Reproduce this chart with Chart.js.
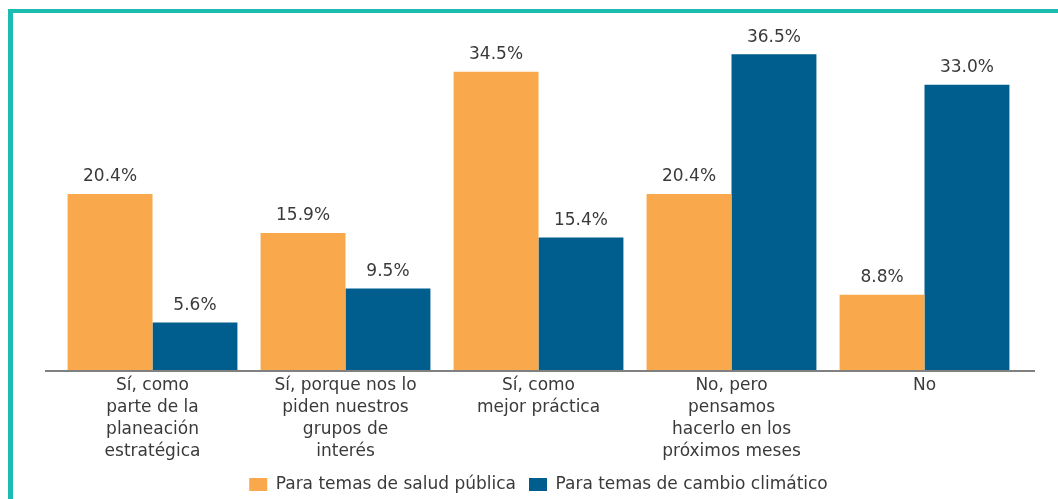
<!DOCTYPE html>
<html>
<head>
<meta charset="utf-8">
<script src="https://cdn.jsdelivr.net/npm/chart.js@4"></script>
<style>
  html, body { margin: 0; padding: 0; background: #ffffff; }
  #wrap { position: relative; width: 1058px; height: 499px; }
</style>
</head>
<body>
<div id="wrap"><canvas id="c"></canvas></div>
<script>
const categories = [
  ['Sí, como', 'parte de la', 'planeación', 'estratégica'],
  ['Sí, porque nos lo', 'piden nuestros', 'grupos de', 'interés'],
  ['Sí, como', 'mejor práctica'],
  ['No, pero', 'pensamos', 'hacerlo en los', 'próximos meses'],
  ['No']
];
const saludPublica = [20.4, 15.9, 34.5, 20.4, 8.8];
const cambioClimatico = [5.6, 9.5, 15.4, 36.5, 33.0];
const seriesNames = ['Para temas de salud pública', 'Para temas de cambio climático'];
const seriesColors = ['#F9A94B', '#005E8F'];

const TEXT = '#3a3a3a';
const FONT = "'DejaVu Sans', 'Open Sans', sans-serif";
const LEGEND_GAP = 13;

const decorPlugin = {
  id: 'decor',
  beforeDraw(chart) {
    const ctx = chart.ctx;
    ctx.save();
    ctx.fillStyle = '#1CBCB1';
    ctx.fillRect(8, 9, 5, chart.height - 9);
    ctx.fillRect(8, 9, chart.width - 8, 4);
    ctx.restore();
  },
  afterDatasetsDraw(chart) {
    const ctx = chart.ctx;
    const area = chart.chartArea;
    ctx.save();
    ctx.font = '17px ' + FONT;
    ctx.fillStyle = TEXT;
    ctx.textAlign = 'center';
    ctx.textBaseline = 'middle';
    chart.data.datasets.forEach((ds, di) => {
      const meta = chart.getDatasetMeta(di);
      meta.data.forEach((el, i) => {
        ctx.fillText(ds.data[i].toFixed(1) + '%', el.x, el.y - 17);
      });
    });
    ctx.strokeStyle = '#808080';
    ctx.lineWidth = 2;
    ctx.beginPath();
    ctx.moveTo(area.left - 11, area.bottom);
    ctx.lineTo(area.right + 14, area.bottom);
    ctx.stroke();
    ctx.restore();
  }
};

new Chart(document.getElementById('c'), {
  type: 'bar',
  data: {
    labels: categories,
    datasets: [
      { label: seriesNames[0], data: saludPublica, backgroundColor: seriesColors[0], borderWidth: 0 },
      { label: seriesNames[1], data: cambioClimatico, backgroundColor: seriesColors[1], borderWidth: 0 }
    ]
  },
  options: {
    responsive: true,
    maintainAspectRatio: false,
    animation: false,
    layout: { padding: { left: 56, right: 37, top: 24, bottom: -4 } },
    datasets: { bar: { categoryPercentage: 0.88, barPercentage: 1.0 } },
    scales: {
      x: {
        grid: { display: false, drawTicks: false },
        border: { display: false },
        ticks: {
          color: TEXT,
          padding: 4,
          maxRotation: 0,
          autoSkip: false,
          font: { family: FONT, size: 17, lineHeight: '22px' }
        },
        afterFit(scale) { scale.height = 105 - LEGEND_GAP; }
      },
      y: {
        display: false,
        min: 0,
        max: 40,
        grid: { display: false }
      }
    },
    plugins: {
      tooltip: { enabled: false },
      legend: {
        position: 'bottom',
        labels: {
          color: TEXT,
          boxWidth: 18,
          boxHeight: 13,
          padding: LEGEND_GAP,
          font: { family: FONT, size: 17 }
        }
      }
    }
  },
  plugins: [decorPlugin]
});
</script>
</body>
</html>
